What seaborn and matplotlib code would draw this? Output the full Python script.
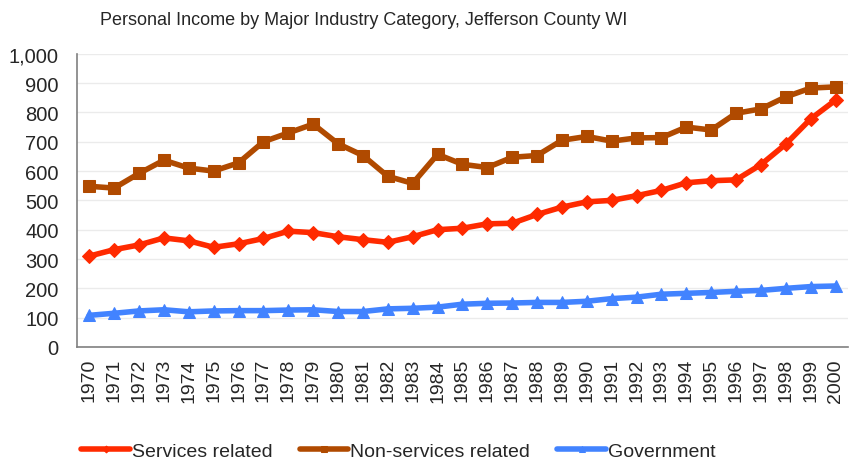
import numpy as np
import pandas as pd
import matplotlib.pyplot as plt
import seaborn as sns

years = list(range(1970, 2001))
services = [310, 332, 348, 372, 362, 340, 352, 370, 395, 390, 376, 366, 357, 376, 400,
            405, 420, 422, 452, 477, 495, 500, 516, 534, 560, 567, 570, 622, 692, 778, 842]
non_services = [548, 542, 592, 637, 610, 600, 628, 700, 730, 760, 693, 653, 582, 558, 657,
                623, 612, 647, 653, 705, 718, 702, 713, 714, 750, 740, 797, 812, 853, 883, 887]
government = [108, 115, 123, 127, 120, 123, 124, 124, 126, 127, 121, 121, 130, 132, 136,
              146, 149, 150, 152, 152, 156, 165, 170, 180, 183, 186, 190, 193, 200, 206, 208]

series_names = ['Services related', 'Non-services related', 'Government']
colors = ['#FF2A00', '#B04A00', '#4283FF']
markers = ['D', 's', '^']
msizes = [7, 8, 8]

df = pd.DataFrame({'Year': years, series_names[0]: services,
                   series_names[1]: non_services, series_names[2]: government})
long = df.melt(id_vars='Year', var_name='Series', value_name='Income')

sns.set_style('white')
plt.rcParams['font.family'] = ['Liberation Sans', 'DejaVu Sans']

fig = plt.figure(figsize=(8.54, 4.64), dpi=100)
ax = fig.add_axes([0.090, 0.250, 0.903, 0.632])

for name, c, m, ms in zip(series_names, colors, markers, msizes):
    sub = long[long['Series'] == name]
    sns.lineplot(data=sub, x='Year', y='Income', ax=ax, color=c, linewidth=4,
                 marker=m, markersize=ms, markeredgecolor=c, label=name)

ax.set_xlim(1969.5, 2000.5)
ax.set_ylim(0, 1000)
ax.set_yticks(np.arange(0, 1001, 100))
ax.set_yticklabels(['{:,}'.format(v) for v in range(0, 1001, 100)], fontsize=14.5)
ax.set_xticks(years)
ax.set_xticklabels([str(y) for y in years], rotation=90, fontsize=14)
ax.set_xticks(np.arange(1969.5, 2001, 1), minor=True)
ax.tick_params(axis='x', which='major', length=0, pad=8)
ax.tick_params(axis='x', which='minor', length=5, color='#808080', width=1)
ax.tick_params(axis='y', length=5, color='#808080', width=1, pad=8)
ax.yaxis.grid(True, color='#EBEBEB', linewidth=1)
ax.set_axisbelow(True)
for s in ['top', 'right']:
    ax.spines[s].set_visible(False)
for s in ['left', 'bottom']:
    ax.spines[s].set_color('#808080')
    ax.spines[s].set_linewidth(1.2)
ax.set_xlabel('')
ax.set_ylabel('')

fig.text(0.117, 0.955, 'Personal Income by Major Industry Category, Jefferson County WI',
         fontsize=13, ha='left', va='center')

ax.legend(loc='center', bbox_to_anchor=(0.417, -0.355), ncol=3, frameon=False,
          fontsize=14, handlelength=2.5, handletextpad=0.1, columnspacing=1.4,
          markerscale=0.5)

fig.savefig('out.png', dpi=100)
